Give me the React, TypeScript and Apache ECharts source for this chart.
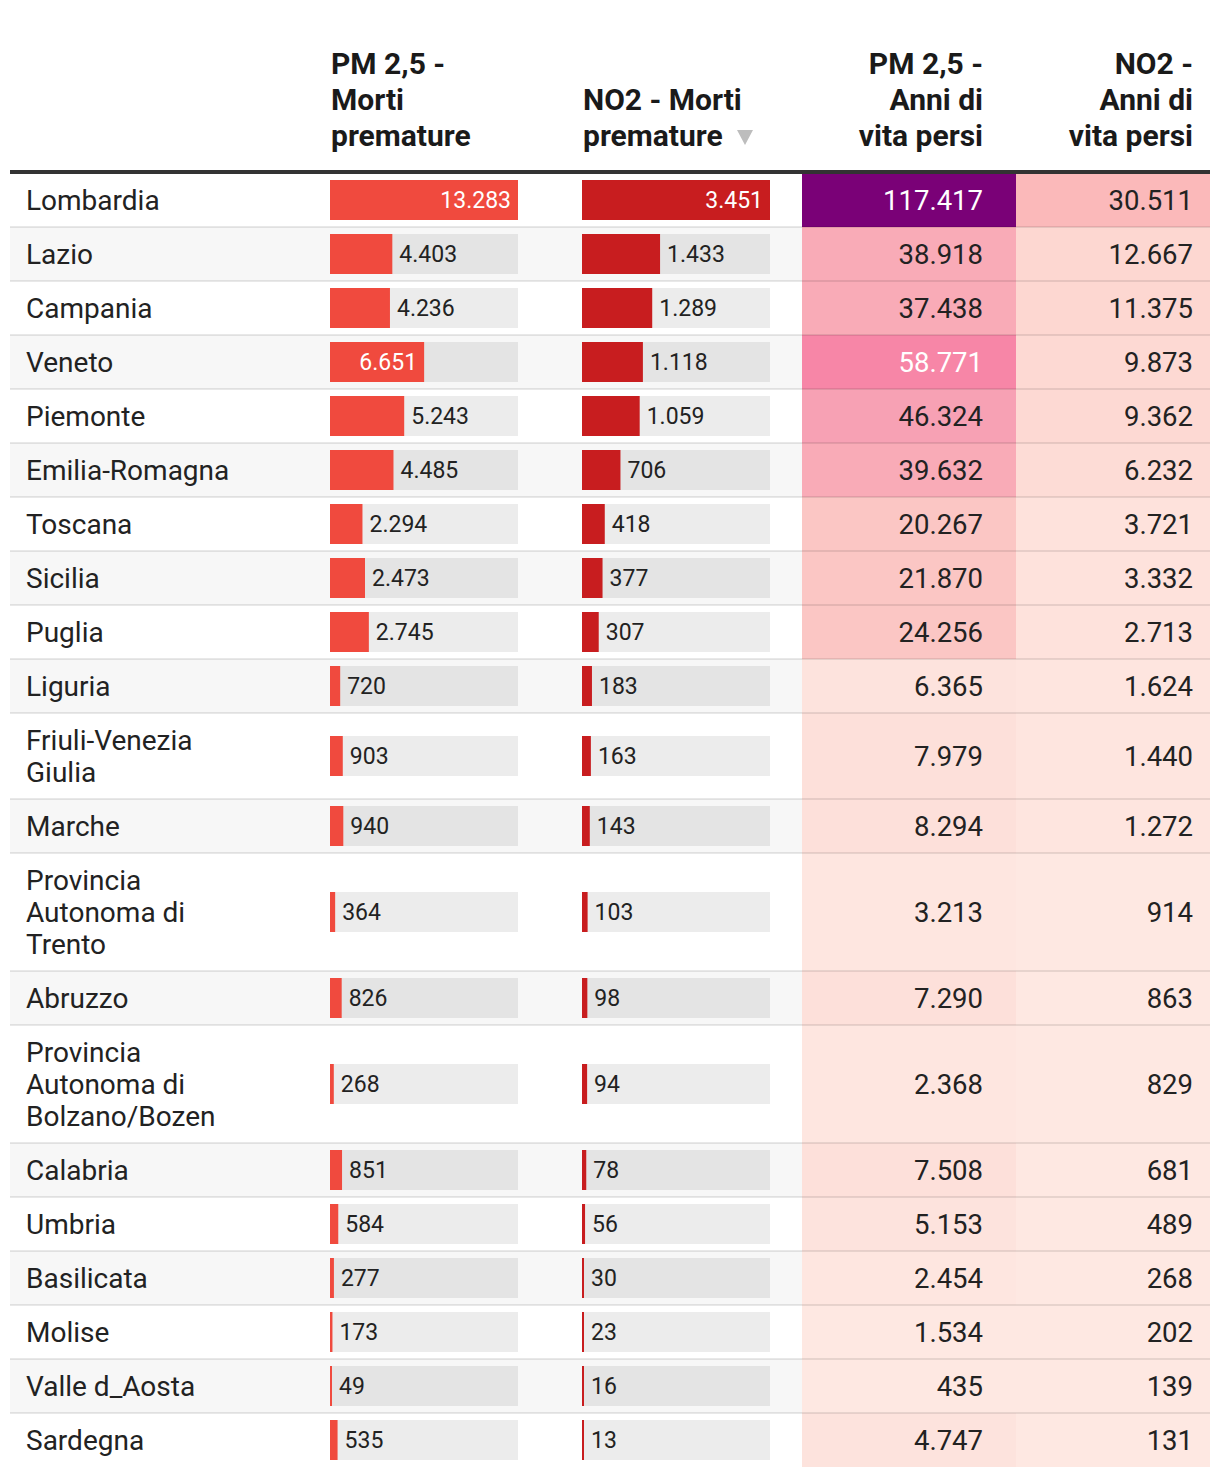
import React, { useEffect, useRef } from "react";
import * as echarts from "echarts";

// ---------- DATA ----------
const regions = [
  "Lombardia",
  "Lazio",
  "Campania",
  "Veneto",
  "Piemonte",
  "Emilia-Romagna",
  "Toscana",
  "Sicilia",
  "Puglia",
  "Liguria",
  "Friuli-Venezia Giulia",
  "Marche",
  "Provincia Autonoma di Trento",
  "Abruzzo",
  "Provincia Autonoma di Bolzano/Bozen",
  "Calabria",
  "Umbria",
  "Basilicata",
  "Molise",
  "Valle d_Aosta",
  "Sardegna",
];
const pmDeaths = [13283, 4403, 4236, 6651, 5243, 4485, 2294, 2473, 2745, 720, 903, 940, 364, 826, 268, 851, 584, 277, 173, 49, 535];
const no2Deaths = [3451, 1433, 1289, 1118, 1059, 706, 418, 377, 307, 183, 163, 143, 103, 98, 94, 78, 56, 30, 23, 16, 13];
const pmYears = [117417, 38918, 37438, 58771, 46324, 39632, 20267, 21870, 24256, 6365, 7979, 8294, 3213, 7290, 2368, 7508, 5153, 2454, 1534, 435, 4747];
const no2Years = [30511, 12667, 11375, 9873, 9362, 6232, 3721, 3332, 2713, 1624, 1440, 1272, 914, 863, 829, 681, 489, 268, 202, 139, 131];

const headers = [
  "PM 2,5 -\nMorti\npremature",
  "NO2 - Morti\npremature",
  "PM 2,5 -\nAnni di\nvita persi",
  "NO2 -\nAnni di\nvita persi",
];

// colour bins
const pmYearsPieces = [
  { min: 100000, color: "#7a0177" },
  { min: 55000, max: 100000, color: "#f786a7" },
  { min: 44000, max: 55000, color: "#f7a1b4" },
  { min: 30000, max: 44000, color: "#f9abb7" },
  { min: 15000, max: 30000, color: "#fbc6c4" },
  { min: 7000, max: 15000, color: "#fde0da" },
  { min: 4000, max: 7000, color: "#fde3dd" },
  { min: 2000, max: 4000, color: "#fee6e0" },
  { min: 0, max: 2000, color: "#fee8e2" },
];
const no2YearsPieces = [
  { min: 25000, color: "#fbb9ba" },
  { min: 10500, max: 25000, color: "#fdd7d1" },
  { min: 8000, max: 10500, color: "#fdd9d3" },
  { min: 5000, max: 8000, color: "#fddcd6" },
  { min: 2000, max: 5000, color: "#fee2dc" },
  { min: 1000, max: 2000, color: "#fee5df" },
  { min: 0, max: 1000, color: "#fee8e2" },
];

// ---------- LAYOUT / STYLE ----------
const FONT = "Roboto, 'DejaVu Sans', sans-serif";
const TEXT = "#222222";
const ROW_BASE = 54;
const LINE_H = 32;
const TABLE_TOP = 173;
const BAR_H = 40;
const PM_COLOR = "#f04a3e";
const NO2_COLOR = "#c81d1f";

const fmt = (v: number) => String(v).replace(/\B(?=(\d{3})+(?!\d))/g, ".");

function wrap(s: string, max: number): string[] {
  const words = s.split(" ");
  const out: string[] = [];
  let cur = "";
  for (const w of words) {
    if (!cur) cur = w;
    else if ((cur + " " + w).length <= max) cur += " " + w;
    else {
      out.push(cur);
      cur = w;
    }
  }
  if (cur) out.push(cur);
  return out;
}

const regionLines = regions.map((r) => wrap(r, 15));
const rowTop: number[] = [];
const rowBot: number[] = [];
let acc = 0;
regionLines.forEach((l) => {
  rowTop.push(acc);
  acc += ROW_BASE + LINE_H * (l.length - 1);
  rowBot.push(acc);
});
const TOTAL = acc;

function brightness(hex: string): number {
  const h = hex.replace("#", "");
  const r = parseInt(h.slice(0, 2), 16);
  const g = parseInt(h.slice(2, 4), 16);
  const b = parseInt(h.slice(4, 6), 16);
  return (0.299 * r + 0.587 * g + 0.114 * b) / 255;
}

function barSeries(values: number[], axis: number, color: string) {
  const max = Math.max(...values);
  return {
    type: "custom",
    xAxisIndex: axis,
    yAxisIndex: axis,
    z: 3,
    data: values.map((v, i) => [v, rowTop[i], rowBot[i]]),
    renderItem: (params: any, api: any) => {
      const v = api.value(0);
      const mid = (api.value(1) + api.value(2)) / 2;
      const c0 = api.coord([0, mid]);
      const cMax = api.coord([max, mid]);
      const cv = api.coord([v, mid]);
      const h = api.size([0, BAR_H])[1];
      const w = Math.max(2, cv[0] - c0[0]);
      const inside = v / max >= 0.5;
      return {
        type: "group",
        children: [
          {
            type: "rect",
            shape: { x: c0[0], y: c0[1] - h / 2, width: cMax[0] - c0[0], height: h },
            style: { fill: "rgba(0,0,0,0.075)" },
          },
          {
            type: "rect",
            shape: { x: c0[0], y: c0[1] - h / 2, width: w, height: h },
            style: { fill: color },
          },
          {
            type: "text",
            x: inside ? c0[0] + w - 7 : c0[0] + w + 7,
            y: c0[1],
            style: {
              text: fmt(v),
              fill: inside ? "#ffffff" : TEXT,
              fontSize: 23,
              fontFamily: FONT,
              align: inside ? "right" : "left",
              verticalAlign: "middle",
            },
          },
        ],
      };
    },
  };
}

function heatSeries(values: number[], axis: number, rightPad: number) {
  return {
    type: "custom",
    xAxisIndex: axis,
    yAxisIndex: axis,
    z: 2,
    data: values.map((v, i) => [v, rowTop[i], rowBot[i]]),
    renderItem: (params: any, api: any) => {
      const v = api.value(0);
      const p0 = api.coord([0, api.value(1)]);
      const p1 = api.coord([1, api.value(2)]);
      const col = api.visual("color");
      const light = brightness(col) < 0.7;
      return {
        type: "group",
        children: [
          {
            type: "rect",
            shape: { x: p0[0], y: p0[1], width: p1[0] - p0[0], height: p1[1] - p0[1] },
            style: { fill: col },
          },
          {
            type: "text",
            x: p1[0] - rightPad,
            y: (p0[1] + p1[1]) / 2,
            style: {
              text: fmt(v),
              fill: light ? "#ffffff" : TEXT,
              fontSize: 27.5,
              fontFamily: FONT,
              align: "right",
              verticalAlign: "middle",
            },
          },
        ],
      };
    },
  };
}

export default function App() {
  const ref = useRef<HTMLDivElement>(null);
  useEffect(() => {
    document.body.style.margin = "0";
    const chart = echarts.init(ref.current!, null, { renderer: "svg" });

    const grids = [
      { left: 10, width: 1200 },
      { left: 330, width: 188 },
      { left: 582, width: 188 },
      { left: 802, width: 214 },
      { left: 1016, width: 194 },
    ].map((g) => ({ ...g, top: TABLE_TOP, height: TOTAL, containLabel: false }));

    const xMax = [1, Math.max(...pmDeaths), Math.max(...no2Deaths), 1, 1];

    const headerStyle = (text: string, align: string) => ({
      text,
      fill: "#1a1a1a",
      font: `bold 30px ${FONT}`,
      fontSize: 30,
      fontWeight: "bold",
      fontFamily: FONT,
      lineHeight: 36,
      align,
      textAlign: align,
      verticalAlign: "middle",
      textVerticalAlign: "middle",
    });

    const option: any = {
      animation: false,
      backgroundColor: "#ffffff",
      grid: grids,
      xAxis: grids.map((g, i) => ({ gridIndex: i, type: "value", min: 0, max: xMax[i], show: false })),
      yAxis: grids.map((g, i) => ({ gridIndex: i, type: "value", min: 0, max: TOTAL, inverse: true, show: false })),
      visualMap: [
        { type: "piecewise", show: false, seriesIndex: 1, dimension: 0, pieces: pmYearsPieces },
        { type: "piecewise", show: false, seriesIndex: 2, dimension: 0, pieces: no2YearsPieces },
      ],
      series: [
        {
          type: "custom",
          xAxisIndex: 0,
          yAxisIndex: 0,
          z: 1,
          data: regions.map((r, i) => [i, rowTop[i], rowBot[i]]),
          renderItem: (params: any, api: any) => {
            const i = api.value(0);
            const p0 = api.coord([0, api.value(1)]);
            const p1 = api.coord([1, api.value(2)]);
            return {
              type: "group",
              children: [
                {
                  type: "rect",
                  shape: { x: p0[0], y: p0[1], width: p1[0] - p0[0], height: p1[1] - p0[1] },
                  style: { fill: i % 2 ? "#f7f7f7" : "#ffffff" },
                },
                {
                  type: "text",
                  x: p0[0] + 16,
                  y: (p0[1] + p1[1]) / 2,
                  style: {
                    text: regionLines[i].join("\n"),
                    fill: TEXT,
                    fontSize: 28,
                    fontFamily: FONT,
                    lineHeight: LINE_H,
                    align: "left",
                    verticalAlign: "middle",
                  },
                },
              ],
            };
          },
        },
        heatSeries(pmYears, 3, 33),
        heatSeries(no2Years, 4, 17),
        barSeries(pmDeaths, 1, PM_COLOR),
        barSeries(no2Deaths, 2, NO2_COLOR),
        {
          type: "custom",
          xAxisIndex: 0,
          yAxisIndex: 0,
          z: 5,
          data: regions.slice(1).map((r, i) => [i + 1, rowTop[i + 1]]),
          renderItem: (params: any, api: any) => {
            const a = api.coord([0, api.value(1)]);
            const b = api.coord([1, api.value(1)]);
            return {
              type: "line",
              shape: { x1: a[0], y1: a[1], x2: b[0], y2: b[1] },
              style: { stroke: "rgba(0,0,0,0.09)", lineWidth: 2 },
            };
          },
        },
      ],
      graphic: [
        { type: "text", x: 331, y: 99, z: 100, style: headerStyle(headers[0], "left") },
        { type: "text", x: 583, y: 117, z: 100, style: headerStyle(headers[1], "left") },
        {
          type: "polygon",
          z: 100,
          shape: { points: [[737, 130], [753, 130], [745, 145]] },
          style: { fill: "#bdbdbd" },
        },
        { type: "text", x: 983, y: 99, z: 100, style: headerStyle(headers[2], "right") },
        { type: "text", x: 1193, y: 99, z: 100, style: headerStyle(headers[3], "right") },
        {
          type: "rect",
          z: 100,
          shape: { x: 10, y: 170, width: 1200, height: 4 },
          style: { fill: "#333333" },
        },
      ],
    };

    chart.setOption(option);
    return () => chart.dispose();
  }, []);
  return <div ref={ref} style={{ width: 1220, height: 1476 }} />;
}
